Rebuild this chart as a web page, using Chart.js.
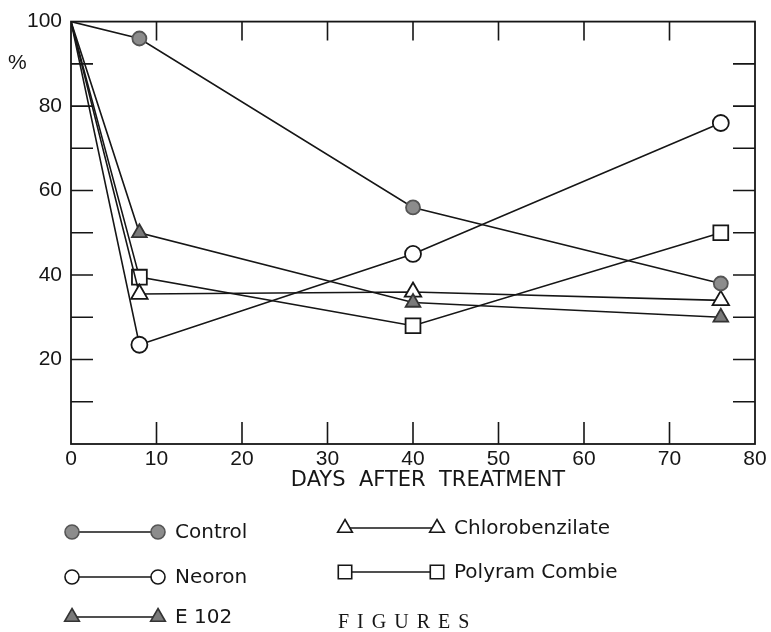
<!DOCTYPE html>
<html>
<head>
<meta charset="utf-8">
<script src="https://cdn.jsdelivr.net/npm/chart.js@4/dist/chart.umd.min.js"></script>
<style>
  body { margin: 0; background: #fff; }
  canvas { display: block; }
</style>
</head>
<body>
<canvas id="myChart" width="771" height="632"></canvas>
<script>
// days after treatment
const days = [0, 8, 40, 76];

// % values
const control = [100, 96, 56, 38];
const neoron = [100, 23.5, 45, 76];
const e102 = [100, 50, 33.5, 30];
const chloro = [100, 35.5, 36, 34];
const polyram = [100, 39.5, 28, 50];

const yLabels = [0, 20, 40, 60, 80, 100];

const ink = '#161616';
const font = "'Liberation Sans', 'DejaVu Sans', sans-serif";
const textFont = "'DejaVu Sans', 'Liberation Sans', sans-serif";

function pts(values) {
  return days.map((d, i) => ({ x: d, y: values[i] }));
}

function series(label, values, style, radius, fill, edge) {
  return {
    label: label,
    data: pts(values),
    borderColor: ink,
    borderWidth: 1.6,
    pointStyle: style,
    pointRadius: ctx => ctx.dataIndex === 0 ? 0 : radius,
    pointBackgroundColor: fill,
    pointBorderColor: edge,
    pointBorderWidth: 1.8,
    tension: 0,
    fill: false
  };
}

const data = {
  datasets: [
    series('Control', control, 'circle', 7, '#8c8c8c', '#555'),
    series('Neoron', neoron, 'circle', 8, '#fff', ink),
    series('E 102', e102, 'triangle', 8.5, '#7a7a7a', '#333'),
    series('Chlorobenzilate', chloro, 'triangle', 9.5, '#fff', ink),
    series('Polyram Combie', polyram, 'rect', 10.5, '#fff', ink)
  ]
};

// frame with inward ticks on all four sides
const frame = {
  id: 'frame',
  beforeDatasetsDraw(chart) {
    const { ctx, chartArea: a, scales } = chart;
    ctx.save();
    ctx.strokeStyle = ink;
    ctx.lineWidth = 1.8;
    ctx.strokeRect(a.left, a.top, a.right - a.left, a.bottom - a.top);
    ctx.lineWidth = 1.6;
    ctx.beginPath();
    scales.x.ticks.forEach(t => {
      if (t.value <= 0 || t.value >= 80) return;
      const px = scales.x.getPixelForValue(t.value);
      ctx.moveTo(px, a.bottom); ctx.lineTo(px, a.bottom - 22);
      ctx.moveTo(px, a.top); ctx.lineTo(px, a.top + 19);
    });
    scales.y.ticks.forEach(t => {
      if (t.value <= 0 || t.value >= 100) return;
      const py = scales.y.getPixelForValue(t.value);
      ctx.moveTo(a.left, py); ctx.lineTo(a.left + 22, py);
      ctx.moveTo(a.right, py); ctx.lineTo(a.right - 22, py);
    });
    ctx.stroke();
    ctx.restore();
  },
  afterDraw(chart) {
    const ctx = chart.ctx;
    ctx.save();
    ctx.fillStyle = ink;
    ctx.textBaseline = 'middle';

    ctx.font = '21px ' + font;
    ctx.textAlign = 'left';
    ctx.fillText('%', 8, 63);

    ctx.font = '21px ' + textFont;
    ctx.textAlign = 'center';
    ctx.fillText('DAYS  AFTER  TREATMENT', 428, 481);

    // legend, two columns
    const spots = [
      [72, 158, 532], [72, 158, 577], [72, 158, 617],
      [345, 437, 528], [345, 437, 572]
    ];
    chart.data.datasets.forEach((ds, i) => {
      const [x1, x2, y] = spots[i];
      ctx.strokeStyle = ink;
      ctx.lineWidth = 1.4;
      ctx.beginPath();
      ctx.moveTo(x1, y); ctx.lineTo(x2, y);
      ctx.stroke();
      const r = ds.pointStyle === 'rect' ? 9.5 : (ds.pointStyle === 'triangle' ? 8.5 : 7);
      [x1, x2].forEach(x => {
        ctx.fillStyle = ds.pointBackgroundColor;
        ctx.strokeStyle = ds.pointBorderColor;
        ctx.lineWidth = 1.6;
        Chart.helpers.drawPoint(ctx, { pointStyle: ds.pointStyle, radius: r, rotation: 0, borderWidth: 1.6 }, x, y);
      });
      ctx.fillStyle = ink;
      ctx.font = '20px ' + textFont;
      ctx.textAlign = 'left';
      ctx.fillText(ds.label, x2 + 17, y + 1);
    });

    ctx.font = '20px "Liberation Serif", "DejaVu Serif", serif';
    ctx.textAlign = 'left';
    const word = 'FIGURES';
    let x = 338;
    for (const ch of word) {
      ctx.fillText(ch, x, 623);
      x += ctx.measureText(ch).width + 8;
    }
    ctx.restore();
  }
};

const config = {
  type: 'line',
  data,
  options: {
    responsive: false,
    animation: false,
    layout: { padding: { left: 0, right: 16, top: 16, bottom: 148 } },
    plugins: {
      legend: { display: false },
      tooltip: { enabled: false }
    },
    scales: {
      x: {
        type: 'linear',
        min: 0,
        max: 80,
        afterFit(scale) { scale.height = 40; },
        ticks: { stepSize: 10, color: ink, font: { size: 21, family: font }, padding: 3, maxRotation: 0 },
        grid: { drawOnChartArea: false, drawTicks: false },
        border: { display: false }
      },
      y: {
        min: 0,
        max: 100,
        afterFit(scale) { scale.width = 71; },
        ticks: {
          stepSize: 10,
          color: ink,
          font: { size: 21, family: font },
          padding: 9,
          callback: v => yLabels.includes(v) && v > 0 ? v : ''
        },
        grid: { drawOnChartArea: false, drawTicks: false },
        border: { display: false }
      }
    }
  },
  plugins: [frame]
};

var myChart = new Chart(document.getElementById('myChart'), config);
</script>
</body>
</html>
